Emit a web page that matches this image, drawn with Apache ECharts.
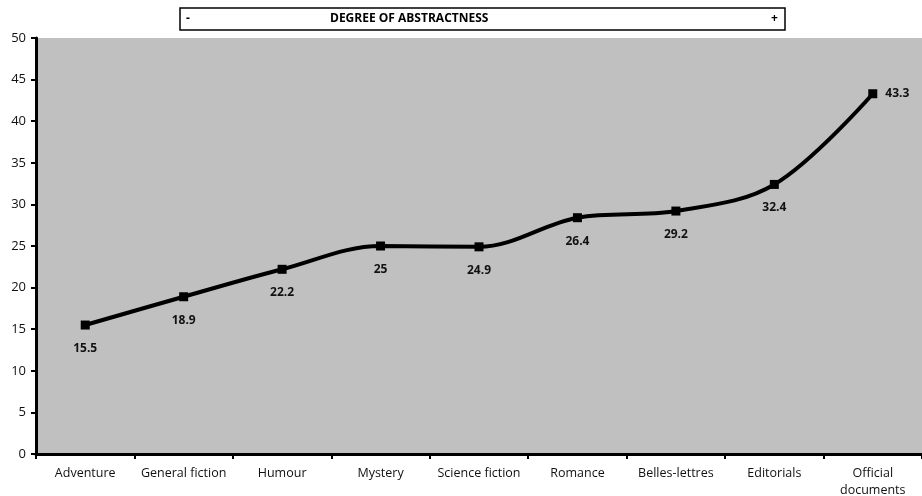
<!DOCTYPE html>
<html>
<head>
<meta charset="utf-8">
<script src="https://cdn.jsdelivr.net/npm/echarts@6/dist/echarts.min.js"></script>
<style>
  html, body { margin: 0; padding: 0; background: #fff; }
  #main { width: 922px; height: 496px; }
</style>
</head>
<body>
<div id="main"></div>
<script>
  // genres, values (from marker positions) and the printed labels
  const categories = ['Adventure', 'General fiction', 'Humour', 'Mystery', 'Science fiction',
    'Romance', 'Belles-lettres', 'Editorials', 'Official\ndocuments'];
  const values = [15.5, 18.9, 22.2, 25, 24.9, 28.4, 29.2, 32.4, 43.3];
  const labelTexts = ['15.5', '18.9', '22.2', '25', '24.9', '26.4', '29.2', '32.4', '43.3'];

  let chart = echarts.init(document.getElementById('main'));
  const font = 'Open Sans';

  // last point gets its label on the right
  let seriesData = values.map((v, i) => {
    if (i === values.length - 1) {
      return { value: v, label: { position: 'right', distance: 8 } };
    }
    return v;
  });

  let option = {
    animation: false,
    textStyle: { fontFamily: font },
    grid: {
      left: 36, right: 0, top: 38, bottom: 42,
      outerBoundsMode: 'none', containLabel: false,
      backgroundColor: '#c0c0c0', show: true, borderWidth: 0
    },
    graphic: [
      { type: 'rect', shape: { x: 180, y: 8, width: 605, height: 22 },
        style: { fill: '#fff', stroke: '#000', lineWidth: 1.5 } },
      { type: 'text', x: 186, y: 19, style: { text: '-', font: 'bold 12px "Open Sans"', fill: '#000', textVerticalAlign: 'middle' } },
      { type: 'text', x: 330, y: 19, style: { text: 'DEGREE OF ABSTRACTNESS', font: 'bold 12px "Open Sans"', fill: '#000', textVerticalAlign: 'middle' } },
      { type: 'text', x: 771, y: 19, style: { text: '+', font: 'bold 12px "Open Sans"', fill: '#000', textVerticalAlign: 'middle' } }
    ],
    xAxis: {
      type: 'category',
      data: categories,
      boundaryGap: true,
      axisLine: { lineStyle: { color: '#000', width: 3 } },
      axisTick: { show: true, length: 5, lineStyle: { color: '#000', width: 2 } },
      axisLabel: { color: '#111', fontSize: 12.5, margin: 11, interval: 0, lineHeight: 17 },
      splitLine: { show: false }
    },
    yAxis: {
      type: 'value',
      min: 0,
      max: 50,
      interval: 5,
      axisLine: { show: true, lineStyle: { color: '#000', width: 3 } },
      axisTick: { show: true, length: 5, lineStyle: { color: '#000', width: 2 } },
      axisLabel: { color: '#111', fontSize: 13, margin: 10 },
      splitLine: { show: false }
    },
    series: [{
      type: 'line',
      data: seriesData,
      smooth: 0.35,
      symbol: 'rect',
      symbolSize: 9,
      lineStyle: { color: '#000', width: 4 },
      itemStyle: { color: '#000' },
      label: {
        show: true,
        position: 'bottom',
        distance: 13,
        color: '#111',
        fontWeight: 'bold',
        fontSize: 12,
        formatter: p => labelTexts[p.dataIndex]
      }
    }]
  };
  chart.setOption(option);
</script>
</body>
</html>
